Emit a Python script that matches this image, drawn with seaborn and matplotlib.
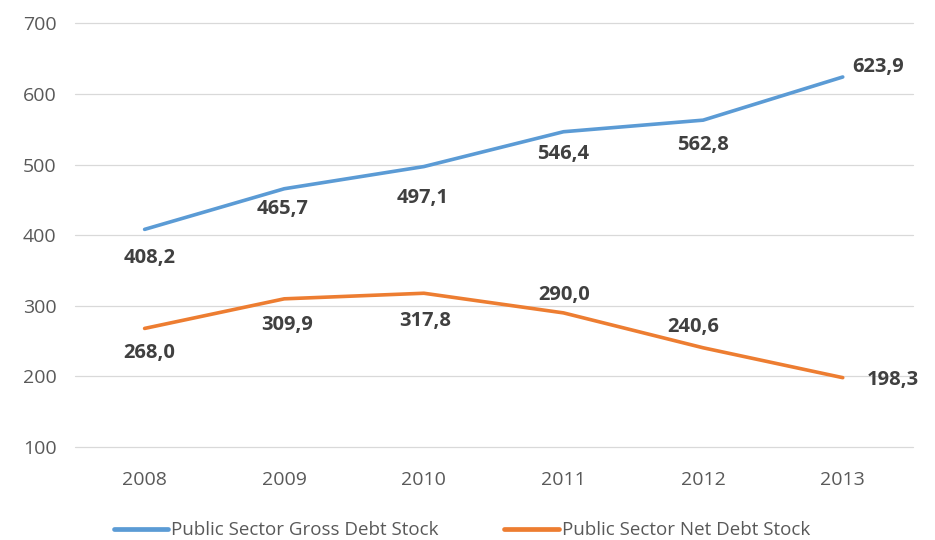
import matplotlib
matplotlib.use("Agg")
import matplotlib.pyplot as plt
import seaborn as sns
import pandas as pd

years = ["2008", "2009", "2010", "2011", "2012", "2013"]
gross_debt = [408.2, 465.7, 497.1, 546.4, 562.8, 623.9]
net_debt = [268.0, 309.9, 317.8, 290.0, 240.6, 198.3]
series_names = ["Public Sector Gross Debt Stock", "Public Sector Net Debt Stock"]
y_ticks = [100, 200, 300, 400, 500, 600, 700]

sns.set_theme(style="white")
plt.rcParams["font.family"] = ["Open Sans", "DejaVu Sans"]

df = pd.DataFrame({
    "year": years * 2,
    "value": gross_debt + net_debt,
    "series": [series_names[0]] * len(years) + [series_names[1]] * len(years),
})

colors = {series_names[0]: "#5B9BD5", series_names[1]: "#ED7D31"}

fig = plt.figure(figsize=(9.35, 5.4), dpi=100)
ax = fig.add_axes([0.080, 0.172, 0.896, 0.785])

sns.lineplot(data=df, x="year", y="value", hue="series", palette=colors,
             linewidth=2.6, ax=ax, legend=False, sort=False)

ax.set_xlim(-0.5, len(years) - 0.5)
ax.set_ylim(100, 700)
ax.set_yticks(y_ticks)
ax.set_yticklabels([str(t) for t in y_ticks])
ax.yaxis.grid(True, color="#d9d9d9", linewidth=0.9)
for gl in ax.yaxis.get_gridlines():
    gl.set_clip_on(False)
ax.xaxis.grid(False)
for s in ax.spines.values():
    s.set_visible(False)
ax.set_xlabel("")
ax.set_ylabel("")
ax.tick_params(axis="both", length=0, labelsize=14, colors="#595959")
ax.tick_params(axis="y", pad=13)
ax.tick_params(axis="x", pad=17)

def fmt(v):
    return f"{v:.1f}".replace(".", ",")

label_style = dict(fontsize=14.5, fontweight="bold", color="#404040",
                   textcoords="offset pixels", va="center")

# gross debt: labels below the line, last one to the right
gross_offsets = [(5, -29), (-2, -20), (-1, -31), (0, -22), (0, -25), (35, 10)]
for i, v in enumerate(gross_debt):
    ax.annotate(fmt(v), (i, v), xytext=gross_offsets[i], ha="center", **label_style)

# net debt: below for the first years, above as it declines, last to the right
net_offsets = [(5, -25), (3, -26), (1, -28), (1, 18), (-10, 21), (50, -2)]
for i, v in enumerate(net_debt):
    ax.annotate(fmt(v), (i, v), xytext=net_offsets[i], ha="center", **label_style)

handles = [plt.Line2D([0], [0], color=colors[n], linewidth=3.4) for n in series_names]
fig.legend(handles, series_names, loc="lower center", ncol=2, frameon=False,
           bbox_to_anchor=(0.494, -0.03), fontsize=13.5, handlelength=2.9,
           handletextpad=0.15, columnspacing=3.5, labelcolor="#595959")

fig.savefig("out.png", dpi=100, facecolor="white")
